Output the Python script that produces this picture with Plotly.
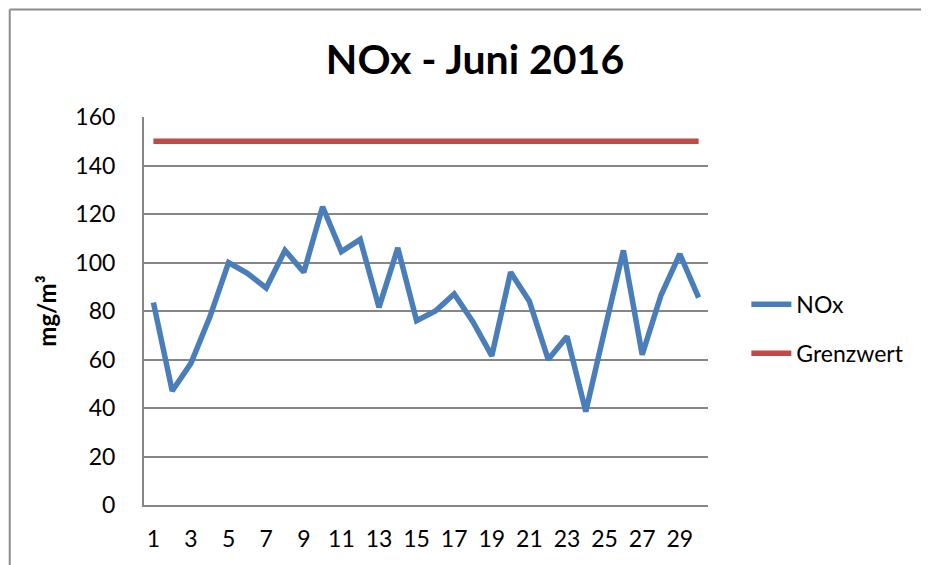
import plotly.graph_objects as go

# Daily NOx values for June 2016
days = list(range(1, 31))
nox = [83.5, 47, 58.5, 77.5, 100, 95.5, 89.5, 105, 96, 123,
       104.5, 109.5, 81.5, 106, 76, 80, 87, 75.5, 61.5, 96,
       84, 60, 69.5, 38.5, 72, 105, 62, 86.5, 103.5, 85.5]
grenzwert = [150] * 30
y_ticks = [0, 20, 40, 60, 80, 100, 120, 140, 160]
x_ticks = list(range(1, 31, 2))

font = "Lato, Arial, sans-serif"
grid = "#868686"

# the page body has an 8px margin, so the figure is a bit smaller
W, H = 921, 557

fig = go.Figure()
fig.add_trace(go.Scatter(x=days, y=nox, name="NOx", mode="lines",
                         line=dict(color="#4A7EBB", width=5.5), legendgroup="a"))
fig.add_trace(go.Scatter(x=days, y=grenzwert, name="Grenzwert", mode="lines",
                         line=dict(color="#BE4B48", width=5.5), legendgroup="b"))

fig.update_layout(
    width=W, height=H,
    margin=dict(l=135.5, r=220.5, t=109, b=60),
    paper_bgcolor="white", plot_bgcolor="white",
    font=dict(family=font, size=23, color="black"),
    title=dict(text="<b>NOx - Juni 2016</b>", x=467 / W, xanchor="center",
               y=1 - 52 / H, yanchor="middle", font=dict(size=41)),
    legend=dict(x=1.068, xanchor="left", y=0.454, yanchor="middle",
                tracegroupgap=16, font=dict(size=23), itemwidth=40),
    showlegend=True,
)
fig.update_xaxes(range=[0.5, 30.5], tickvals=x_ticks, showgrid=False,
                 showline=True, linecolor=grid, linewidth=2, ticks="",
                 ticklabelstandoff=12, zeroline=False)
fig.update_yaxes(range=[0, 160], tickvals=y_ticks, showgrid=True,
                 gridcolor=grid, gridwidth=1.5, showline=True, linecolor=grid,
                 linewidth=2, ticks="", ticklabelstandoff=22, zeroline=False,
                 title=dict(text="<b>mg/m³</b>", font=dict(size=24), standoff=12))

# outer chart border: only its left and top edges are in view
bx0 = (1 - 135.5) / 565
by1 = (497 - 1.5) / 388
fig.add_shape(type="line", xref="paper", yref="paper",
              x0=bx0, x1=bx0, y0=-0.2, y1=by1,
              line=dict(color="#8c8c8c", width=2), layer="below")
fig.add_shape(type="line", xref="paper", yref="paper",
              x0=bx0, x1=1.5, y0=by1, y1=by1,
              line=dict(color="#8c8c8c", width=2), layer="below")

fig.write_html("out.html")
